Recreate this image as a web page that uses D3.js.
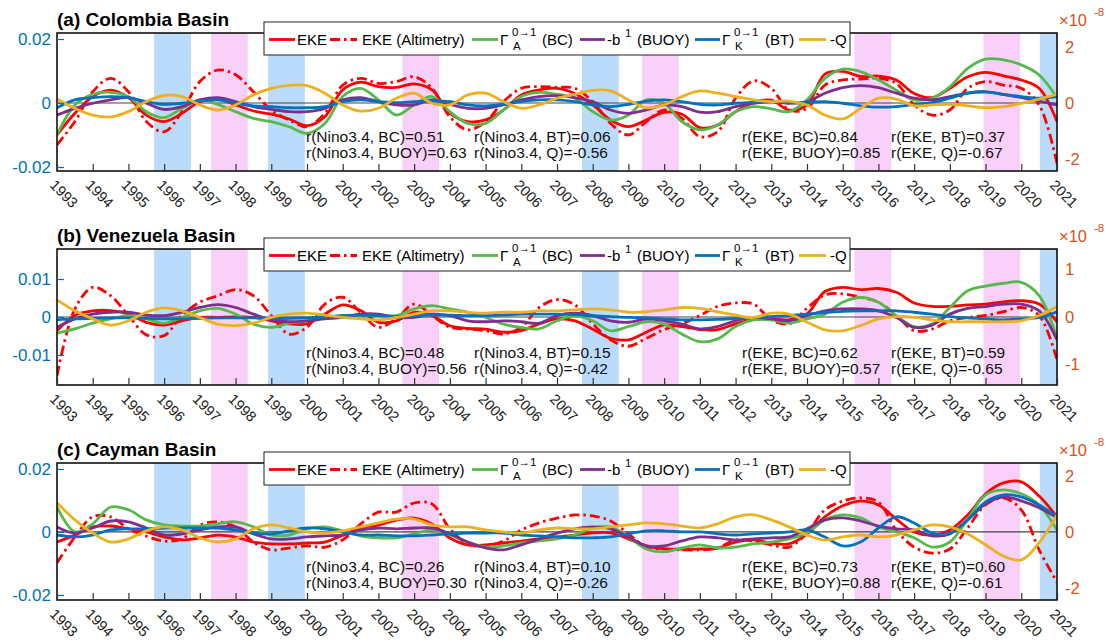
<!DOCTYPE html>
<html><head><meta charset="utf-8">
<script src="https://cdn.jsdelivr.net/npm/d3@7"></script>
<style>
body{margin:0;background:#fff}
svg{display:block}
text{font-family:"Liberation Sans",Arial,Helvetica,sans-serif}
</style></head>
<body><svg id="chart" width="1108" height="642"></svg>
<script>
// ---------------- DATA ----------------
const sampleYears = [1993,1993.5,1994,1994.5,1995,1995.5,1996,1996.5,1997,1997.5,1998,1998.5,1999,1999.5,2000,2000.5,2001,2001.5,2002,2002.5,2003,2003.5,2004,2004.5,2005,2005.5,2006,2006.5,2007,2007.5,2008,2008.5,2009,2009.5,2010,2010.5,2011,2011.5,2012,2012.5,2013,2013.5,2014,2014.5,2015,2015.5,2016,2016.5,2017,2017.5,2018,2018.5,2019,2019.5,2020,2020.5,2021];
const yearTicks = [1993,1994,1995,1996,1997,1998,1999,2000,2001,2002,2003,2004,2005,2006,2007,2008,2009,2010,2011,2012,2013,2014,2015,2016,2017,2018,2019,2020,2021];
const laNinaBands = [[1995.72,1996.75],[1998.91,1999.94],[2007.70,2008.73],[2020.52,2021.6]];
const elNinoBands = [[1997.31,1998.34],[2002.67,2003.70],[2009.38,2010.41],[2015.33,2016.36],[2018.94,2019.97]];
const seriesNames = ["EKE","EKE (Altimetry)","BC","BUOY","BT","Q"];

// (a) Colombia Basin  (EKE on left axis, energetics on right axis in 1e-8)
const aEKE = [-0.0100,-0.0032,0.0020,0.0040,0.0017,-0.0038,-0.0058,-0.0032,0.0004,0.0013,-0.0006,-0.0025,-0.0035,-0.0050,-0.0071,-0.0043,0.0041,0.0065,0.0051,0.0049,0.0060,0.0041,-0.0032,-0.0058,-0.0053,-0.0022,0.0025,0.0041,0.0046,
 0.0030,-0.0006,-0.0053,-0.0074,-0.0053,-0.0029,-0.0035,-0.0077,-0.0069,-0.0027,0.0002,0.0009,-0.0022,-0.0006,0.0090,0.0099,0.0083,0.0084,0.0072,0.0030,0.0017,0.0046,0.0082,0.0096,0.0085,0.0072,0.0046,-0.0058];
const aEKEalt = [-0.0131,-0.0058,0.0035,0.0077,0.0035,-0.0058,-0.0090,-0.0027,0.0067,0.0103,0.0088,0.0035,-0.0022,-0.0053,-0.0074,-0.0032,0.0056,0.0077,0.0061,0.0067,0.0082,0.0046,-0.0043,-0.0084,-0.0058,0.0004,0.0046,0.0051,0.0049,
 0.0046,0.0004,-0.0064,-0.0100,-0.0058,-0.0022,-0.0048,-0.0105,-0.0090,0.0015,0.0069,0.0046,-0.0022,-0.0017,0.0056,0.0072,0.0075,0.0077,0.0061,-0.0006,-0.0038,-0.0022,0.0046,0.0067,0.0056,0.0046,-0.0006,-0.0189];
const aBC = [-1.14,-0.07,0.31,0.38,0.23,-0.31,-0.52,-0.19,0.11,-0.05,-0.31,-0.55,-0.67,-0.85,-1.08,-0.73,0.23,0.52,0.11,-0.43,-0.07,0.23,-0.31,-0.73,-0.73,-0.25,0.23,0.38,0.31,
 0.17,-0.31,-0.61,-0.43,0.11,-0.01,-0.67,-0.96,-0.79,-0.31,-0.13,-0.21,-0.31,0.11,0.88,1.21,1.12,0.82,0.46,0.11,0.17,0.58,1.24,1.57,1.54,1.36,1.00,0.19];
const aBUOY = [-0.43,-0.19,-0.01,0.11,0.19,-0.01,-0.23,-0.13,0.11,0.19,0.05,-0.13,-0.23,-0.31,-0.31,-0.19,0.11,0.19,0.05,-0.07,-0.07,0.11,-0.05,-0.19,-0.19,-0.07,0.11,0.23,0.26,
 0.19,0.05,-0.25,-0.37,-0.25,-0.07,-0.13,-0.33,-0.31,-0.13,-0.01,0.05,-0.01,0.05,0.35,0.55,0.62,0.55,0.35,0.17,0.11,0.23,0.35,0.40,0.31,0.19,0.07,-0.07];
const aBT = [-0.17,0.11,0.19,0.23,0.19,0.05,-0.05,-0.01,0.07,0.11,-0.01,-0.10,-0.13,-0.17,-0.17,-0.13,0.05,0.11,0.05,0.01,0.05,0.07,0.05,-0.07,-0.10,-0.05,0.05,0.11,0.11,
 0.05,-0.07,-0.13,-0.05,0.07,0.11,0.05,-0.05,-0.07,-0.01,0.02,0.05,0.01,0.02,0.05,-0.01,-0.10,-0.15,-0.13,-0.05,0.01,0.17,0.35,0.40,0.31,0.23,0.17,0.23];
const aQ = [0.14,-0.19,-0.43,-0.50,-0.31,0.05,0.27,0.23,-0.07,-0.25,-0.07,0.29,0.52,0.63,0.62,0.35,-0.07,-0.29,-0.19,0.17,0.35,-0.01,-0.07,0.29,0.35,0.05,-0.19,-0.07,0.17,
 0.31,0.45,0.43,0.11,-0.17,-0.07,0.23,0.43,0.35,0.23,0.11,0.05,0.07,-0.07,-0.43,-0.57,-0.19,0.17,0.14,-0.10,-0.07,-0.05,-0.10,-0.17,-0.13,-0.01,0.14,0.31];

// (b) Venezuela Basin
const bEKE = [-0.0036,0.0004,0.0016,0.0017,0.0008,-0.0014,-0.0021,-0.0010,-0.0001,-0.0001,0.0000,-0.0001,-0.0010,-0.0018,-0.0018,0.0008,0.0032,0.0017,-0.0014,-0.0010,0.0012,0.0004,-0.0023,-0.0030,-0.0032,-0.0040,-0.0036,-0.0018,-0.0005,
 -0.0010,-0.0032,-0.0056,-0.0060,-0.0040,-0.0021,-0.0025,-0.0033,-0.0033,-0.0018,-0.0007,-0.0005,-0.0007,0.0008,0.0067,0.0078,0.0072,0.0075,0.0065,0.0037,0.0028,0.0028,0.0032,0.0034,0.0040,0.0043,0.0034,-0.0013];
const bEKEalt = [-0.0154,0.0021,0.0078,0.0056,0.0004,-0.0047,-0.0049,0.0004,0.0039,0.0056,0.0072,0.0056,0.0004,-0.0045,-0.0027,0.0034,0.0052,0.0012,-0.0027,-0.0005,0.0034,0.0004,-0.0027,-0.0032,-0.0036,-0.0045,-0.0027,0.0025,0.0046,
 0.0032,-0.0018,-0.0060,-0.0077,-0.0056,-0.0033,-0.0018,0.0004,0.0028,0.0037,0.0034,-0.0007,-0.0018,0.0023,0.0058,0.0061,0.0052,0.0039,0.0004,-0.0036,-0.0032,-0.0010,-0.0001,0.0004,0.0014,0.0025,0.0004,-0.0113];
const bBC = [-0.34,-0.25,-0.13,-0.04,0.03,-0.04,-0.13,-0.01,0.13,0.18,0.06,-0.15,-0.22,-0.13,-0.08,-0.01,0.03,0.04,0.03,0.03,0.17,0.24,0.17,0.10,-0.01,-0.15,-0.22,-0.25,-0.08,
 0.03,-0.08,-0.29,-0.20,-0.10,-0.15,-0.36,-0.52,-0.46,-0.20,-0.06,-0.06,-0.13,-0.04,0.06,0.31,0.41,0.31,0.03,-0.20,-0.15,0.20,0.55,0.65,0.71,0.73,0.45,-0.45];
const bBUOY = [-0.22,-0.04,0.06,0.10,0.10,0.04,0.03,0.10,0.20,0.26,0.20,0.06,-0.06,-0.10,-0.08,-0.04,-0.01,0.06,0.06,-0.01,-0.01,0.06,0.03,-0.08,-0.10,-0.08,-0.10,-0.13,0.03,
 0.08,0.03,-0.08,-0.11,-0.04,-0.08,-0.15,-0.25,-0.20,-0.08,-0.01,-0.04,-0.08,0.03,0.13,0.17,0.17,0.13,-0.01,-0.22,-0.17,0.06,0.18,0.22,0.27,0.27,0.13,-0.48];
const bBT = [-0.06,-0.04,-0.03,-0.02,-0.02,-0.03,-0.04,-0.04,-0.03,-0.02,-0.02,-0.02,-0.03,-0.03,-0.02,0.00,0.03,0.04,0.03,0.01,0.03,0.04,0.04,0.03,0.03,0.04,0.06,0.06,0.06,
 0.05,0.03,0.01,-0.01,-0.02,-0.04,-0.06,-0.06,-0.05,-0.03,-0.01,0.01,0.03,0.06,0.09,0.12,0.13,0.13,0.13,0.10,0.06,0.01,-0.02,-0.04,-0.06,-0.04,-0.01,0.11];
const bQ = [0.36,0.13,-0.04,-0.17,-0.08,0.10,0.19,0.13,-0.01,-0.15,-0.18,-0.13,-0.01,0.06,0.08,0.04,-0.01,-0.04,-0.06,-0.01,0.06,0.13,0.13,0.10,0.08,0.10,0.10,0.13,0.13,
 0.15,0.17,0.15,0.10,0.11,0.15,0.20,0.18,0.11,0.04,-0.01,0.08,0.06,-0.11,-0.27,-0.29,-0.18,-0.04,0.01,-0.01,-0.06,-0.10,-0.10,-0.10,-0.10,-0.08,0.03,0.22];

// (c) Cayman Basin
const cEKE = [-0.0032,-0.0010,0.0016,0.0019,0.0010,0.0000,-0.0016,-0.0025,-0.0019,-0.0010,-0.0016,-0.0032,-0.0038,-0.0038,-0.0035,-0.0032,-0.0010,0.0013,0.0022,0.0038,0.0044,0.0025,-0.0019,-0.0041,-0.0041,-0.0035,-0.0029,-0.0022,-0.0016,
 -0.0010,-0.0003,-0.0003,-0.0022,-0.0044,-0.0054,-0.0054,-0.0054,-0.0051,-0.0032,-0.0025,-0.0035,-0.0038,-0.0006,0.0048,0.0083,0.0098,0.0086,0.0041,0.0000,-0.0010,0.0006,0.0054,0.0121,0.0156,0.0159,0.0114,0.0048];
const cEKEalt = [-0.0098,-0.0016,0.0048,0.0048,0.0010,-0.0013,-0.0029,-0.0022,0.0022,0.0032,0.0016,-0.0032,-0.0057,-0.0051,-0.0044,-0.0048,-0.0025,0.0025,0.0063,0.0063,0.0092,0.0089,0.0010,-0.0038,-0.0044,-0.0029,0.0006,0.0029,0.0044,
 0.0054,0.0051,0.0035,-0.0006,-0.0048,-0.0054,-0.0057,-0.0057,-0.0051,-0.0025,-0.0029,-0.0041,-0.0048,-0.0003,0.0070,0.0098,0.0108,0.0095,0.0006,-0.0048,-0.0067,-0.0054,0.0013,0.0086,0.0108,0.0070,-0.0057,-0.0159];
const cBC = [0.89,0.00,0.29,0.89,0.79,0.43,0.25,0.21,0.21,0.29,0.36,0.18,-0.11,-0.11,0.11,0.18,0.04,-0.14,-0.21,-0.21,-0.07,0.07,-0.11,-0.36,-0.54,-0.50,-0.39,-0.32,-0.25,
 -0.11,0.14,0.18,-0.18,-0.61,-0.71,-0.57,-0.46,-0.57,-0.54,-0.43,-0.36,-0.25,-0.04,0.43,0.61,0.50,0.18,0.00,-0.21,-0.54,-0.36,0.46,1.32,1.50,1.36,0.96,0.07];
const cBUOY = [0.18,-0.04,0.14,0.39,0.36,0.14,-0.11,-0.07,0.07,0.18,0.18,-0.07,-0.25,-0.25,-0.18,-0.14,-0.11,0.07,0.14,0.11,0.14,0.14,-0.07,-0.36,-0.57,-0.64,-0.46,-0.25,-0.04,
 0.11,0.18,0.11,-0.18,-0.50,-0.50,-0.32,-0.18,-0.21,-0.29,-0.25,-0.21,-0.18,0.11,0.43,0.50,0.39,0.21,0.11,0.07,-0.14,-0.07,0.43,1.00,1.25,1.11,0.86,0.50];
const cBT = [-0.11,-0.18,-0.11,0.07,0.11,0.11,0.14,0.14,0.14,0.14,0.07,-0.04,-0.07,0.04,0.14,0.11,0.00,-0.11,-0.11,-0.14,-0.14,-0.11,-0.07,-0.04,-0.04,-0.04,-0.11,-0.14,-0.18,
 -0.21,-0.21,-0.18,-0.07,0.04,0.04,0.00,0.00,-0.07,-0.11,-0.07,-0.04,0.00,0.07,-0.18,-0.50,-0.36,0.14,0.54,0.32,-0.04,-0.04,0.43,1.07,1.32,1.25,0.96,0.54];
const cQ = [1.04,0.43,-0.04,-0.36,-0.25,0.04,0.18,0.07,-0.21,-0.36,-0.25,0.11,0.25,0.14,0.00,-0.04,0.04,0.18,0.32,0.46,0.46,0.25,0.18,0.18,0.07,0.00,-0.04,0.07,0.14,
 0.11,0.11,0.18,0.25,0.32,0.29,0.21,0.14,0.29,0.54,0.61,0.43,0.18,-0.11,-0.29,-0.18,-0.11,-0.18,-0.11,0.07,0.25,0.18,-0.07,-0.46,-0.86,-1.00,-0.39,0.61];

const leftTicksA = [-0.02,0,0.02], leftTicksB = [-0.01,0,0.01], leftTicksC = [-0.02,0,0.02];
const rightTicksA = [-2,0,2], rightTicksB = [-1,0,1], rightTicksC = [-2,0,2];
const titles = ["(a) Colombia Basin","(b) Venezuela Basin","(c) Cayman Basin"];
const corrA = ["r(Nino3.4, BC)=0.51","r(Nino3.4, BUOY)=0.63","r(Nino3.4, BT)=0.06","r(Nino3.4, Q)=-0.56","r(EKE, BC)=0.84","r(EKE, BUOY)=0.85","r(EKE, BT)=0.37","r(EKE, Q)=-0.67"];
const corrB = ["r(Nino3.4, BC)=0.48","r(Nino3.4, BUOY)=0.56","r(Nino3.4, BT)=0.15","r(Nino3.4, Q)=-0.42","r(EKE, BC)=0.62","r(EKE, BUOY)=0.57","r(EKE, BT)=0.59","r(EKE, Q)=-0.65"];
const corrC = ["r(Nino3.4, BC)=0.26","r(Nino3.4, BUOY)=0.30","r(Nino3.4, BT)=0.10","r(Nino3.4, Q)=-0.26","r(EKE, BC)=0.73","r(EKE, BUOY)=0.88","r(EKE, BT)=0.60","r(EKE, Q)=-0.61"];

// ---------------- LAYOUT / STYLE ----------------
const styles = [
  {color:"#FF0000", dash:null, axis:"L"},
  {color:"#FF0000", dash:"10,4,2.5,4", axis:"L"},
  {color:"#55B94B", dash:null, axis:"R"},
  {color:"#7E2F8E", dash:null, axis:"R"},
  {color:"#0072BD", dash:null, axis:"R"},
  {color:"#EDB120", dash:null, axis:"R"}
];
const panels = [
  {top:33, h:138, lDom:[-0.02125,0.021875], rDom:[-2.43,2.5], lTicks:leftTicksA, rTicks:rightTicksA, data:[aEKE,aEKEalt,aBC,aBUOY,aBT,aQ], corr:corrA, title:titles[0]},
  {top:249, h:136, lDom:[-0.0179,0.0179], rDom:[-1.43,1.43], lTicks:leftTicksB, rTicks:rightTicksB, data:[bEKE,bEKEalt,bBC,bBUOY,bBT,bQ], corr:corrB, title:titles[1]},
  {top:463, h:137, lDom:[-0.0216,0.0219], rDom:[-2.43,2.46], lTicks:leftTicksC, rTicks:rightTicksC, data:[cEKE,cEKEalt,cBC,cBUOY,cBT,cQ], corr:corrC, title:titles[2]}
];
const L = 57, R = 1057;
const svg = d3.select("#chart");
const x = d3.scaleLinear().domain([1993, 2021]).range([L, R]);
const leftColor = "#0072BD", rightColor = "#D95319";

panels.forEach((p, pi) => {
  const top = p.top, bot = p.top + p.h;
  const yL = d3.scaleLinear().domain(p.lDom).range([bot, top]);
  const yR = d3.scaleLinear().domain(p.rDom).range([bot, top]);
  const g = svg.append("g");
  const clipId = "clip" + pi;
  svg.append("clipPath").attr("id", clipId).append("rect").attr("x", L).attr("y", top).attr("width", R - L).attr("height", p.h);
  const plot = g.append("g").attr("clip-path", `url(#${clipId})`);

  plot.selectAll("rect.nina").data(laNinaBands).join("rect")
    .attr("x", d => x(d[0])).attr("width", d => x(d[1]) - x(d[0]))
    .attr("y", top).attr("height", p.h).attr("fill", "#BBDBFA");
  plot.selectAll("rect.nino").data(elNinoBands).join("rect")
    .attr("x", d => x(d[0])).attr("width", d => x(d[1]) - x(d[0]))
    .attr("y", top).attr("height", p.h).attr("fill", "#F9D0F8");

  plot.append("line").attr("x1", L).attr("x2", R).attr("y1", yL(0)).attr("y2", yL(0))
    .attr("stroke", "#444").attr("stroke-width", 1.2);

  p.data.forEach((vals, si) => {
    const st = styles[si];
    const ys = st.axis === "L" ? yL : yR;
    const line = d3.line().x((d, i) => x(sampleYears[i])).y(d => ys(d)).curve(d3.curveCatmullRom.alpha(0.5));
    plot.append("path").attr("d", line(vals)).attr("fill", "none")
      .attr("stroke", st.color).attr("stroke-width", 2.8)
      .attr("stroke-dasharray", st.dash).attr("stroke-linejoin", "round");
  });

  // correlation texts
  const cx = [306, 474, 742, 891];
  p.corr.forEach((t, i) => {
    g.append("text").attr("x", cx[Math.floor(i / 2)]).attr("y", top + 109 + (i % 2) * 16)
      .attr("font-size", 15.5).attr("fill", "#111").text(t);
  });

  // frame
  g.append("rect").attr("x", L).attr("y", top).attr("width", R - L).attr("height", p.h)
    .attr("fill", "none").attr("stroke", "#000").attr("stroke-width", 1.5);

  // bottom axis ticks
  const xa = g.append("g").attr("transform", `translate(0,${bot})`)
    .call(d3.axisBottom(x).tickValues(yearTicks).tickSize(-7).tickFormat(""));
  xa.select(".domain").remove();
  xa.selectAll(".tick line").attr("stroke", "#333").attr("stroke-width", 1.2);
  g.selectAll("text.yr").data(yearTicks).join("text").attr("class", "yr")
    .attr("transform", d => `translate(${x(d) - 8},${bot + 15}) rotate(45)`)
    .attr("font-size", 14.5).attr("fill", "#222").text(d => d);

  // left axis
  const la = g.append("g").attr("transform", `translate(${L},0)`)
    .call(d3.axisLeft(yL).tickValues(p.lTicks).tickSize(-7).tickPadding(6).tickFormat(d => d === 0 ? "0" : String(d)));
  la.select(".domain").remove();
  la.selectAll(".tick line").attr("stroke", leftColor).attr("stroke-width", 1.2);
  la.selectAll(".tick text").attr("fill", leftColor).attr("font-size", 17)
    .attr("font-family", '"Liberation Sans",Arial,sans-serif');

  // right axis
  const ra = g.append("g").attr("transform", `translate(${R},0)`)
    .call(d3.axisRight(yR).tickValues(p.rTicks).tickSize(0).tickPadding(8).tickFormat(d => String(d)));
  ra.select(".domain").remove();
  ra.selectAll(".tick text").attr("fill", rightColor).attr("font-size", 16.5)
    .attr("font-family", '"Liberation Sans",Arial,sans-serif');
  g.append("text").attr("x", 1059).attr("y", top - 7).attr("fill", rightColor).attr("font-size", 16.5).text("\u00D710");
  g.append("text").attr("x", 1094).attr("y", top - 17).attr("fill", rightColor).attr("font-size", 11.5).text("-8");

  // title
  g.append("text").attr("x", L).attr("y", top - 7).attr("font-size", 19).attr("font-weight", "bold")
    .attr("fill", "#000").text(p.title);

  // legend
  const lg = g.append("g");
  const ly0 = top - 11, lh = 33, lcy = ly0 + 17.5, lby = ly0 + 23;
  lg.append("rect").attr("x", 264).attr("y", ly0).attr("width", 586).attr("height", lh)
    .attr("fill", "#fff").attr("stroke", "#222").attr("stroke-width", 1);
  const segs = [[269, 295], [330, 357], [472, 498], [580, 605], [695, 720], [799, 826]];
  segs.forEach((s, i) => {
    lg.append("line").attr("x1", s[0]).attr("x2", s[1]).attr("y1", lcy).attr("y2", lcy)
      .attr("stroke", styles[i].color).attr("stroke-width", 2.8).attr("stroke-dasharray", styles[i].dash);
  });
  const lt = (xx, yy, t, fs) => lg.append("text").attr("x", xx).attr("y", yy).attr("font-size", fs || 15).attr("fill", "#000").text(t);
  lt(297, lby, seriesNames[0]);
  lt(362, lby, seriesNames[1]);
  lt(500, lby, "\u0393"); lt(512, lby - 9, "0\u21921", 11.5); lt(513, lby + 5, "A", 11.5); lt(542, lby, "(" + seriesNames[2] + ")");
  lt(607, lby, "-b"); lt(625, lby - 8, "1", 11.5); lt(637, lby, "(" + seriesNames[3] + ")");
  lt(722, lby, "\u0393"); lt(734, lby - 9, "0\u21921", 11.5); lt(735, lby + 5, "K", 11.5); lt(765, lby, "(" + seriesNames[4] + ")");
  lt(830, lby, "-" + seriesNames[5]);
});
</script></body></html>
